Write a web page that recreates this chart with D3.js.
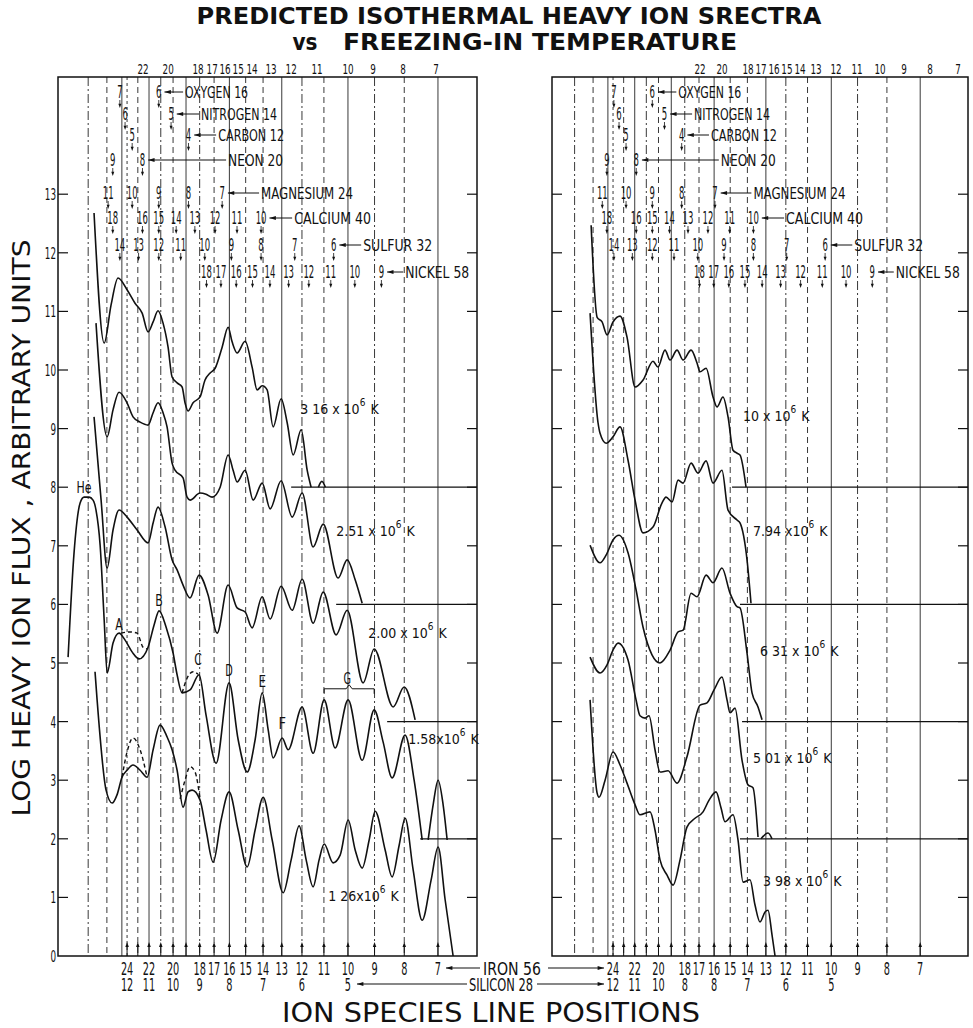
<!DOCTYPE html>
<html><head><meta charset="utf-8">
<script src="https://cdn.jsdelivr.net/npm/d3@7"></script>
<style>
body{margin:0;background:#fff}
svg text{font-family:"Liberation Sans Narrow","DejaVu Sans Condensed","Liberation Sans",sans-serif;fill:#111}
svg text.big{font-family:"DejaVu Sans","Liberation Sans",sans-serif;font-weight:bold}
</style></head><body>
<svg width="973" height="1028"></svg>
<script>
// ---- data (x = mass/charge, y = log flux) ----
var yTickValues = d3.range(0, 14);
var ironQ = [24,23,22,21,20,19,18,17,16,15,14,13,12,11,10,9,8,7];
var ironLabelQ = [24,22,20,18,17,16,15,14,13,12,11,10,9,8,7];
var siliconQAt = [24,22,20,18,16,14,12,10];
var siliconTextL = ["12","11","10","9","8","7","6","5"];
var siliconTextR = ["12","11","10","8","8","7","6","5"];
var lineSpecies = [[4,2],[56,26],[16,7],[56,24],[56,23],[56,22],[56,21],[56,20],[56,19],[56,18],
                   [56,17],[56,16],[56,15],[56,14],[56,13],[56,12],[56,11],[56,10],[56,9],[56,8],[56,7]];
var elementNames = ["OXYGEN 16","NITROGEN 14","CARBON 12","NEON 20","MAGNESIUM 24","CALCIUM 40","SULFUR 32","NICKEL 58"];
var elementMass = [16,14,12,20,24,40,32,58];
var elementCharges = [[7,6],[6,5],[5,4],[9,8],[11,10,9,8,7],[18,16,15,14,13,12,11,10],
                      [14,13,12,11,10,9,8,7,6],[18,17,16,15,14,13,12,11,10,9]];
var elementNameAt = [2.96,3.153,3.374,3.51,4.0,4.56,5.995,7.081];
var topRowText = ["22","20","18","17","16","15","14","13","12","11","10","9","8","7"];
var topRowAtL = [2.486,2.746,3.091,3.269,3.441,3.624,3.829,4.128,4.471,4.953,5.603,6.186,6.966,7.939];
var topRowAtR = [3.308,3.613,4.010,4.224,4.450,4.688,4.940,5.269,5.708,6.208,6.811,7.498,8.322,9.309];

var curve316 = [[2.047,12.68],[2.131,10.46],[2.190,11.11],[2.251,11.57],[2.333,11.37],[2.408,11.14],[2.477,10.97],[2.536,10.65],[2.587,10.82],[2.638,11.01],[2.691,10.80],[2.745,10.39],[2.789,9.88],[2.845,9.78],[2.902,9.71],[2.936,9.44],[2.971,9.30],[3.031,9.44],[3.116,9.54],[3.178,9.83],[3.243,9.95],[3.308,10.03],[3.401,10.39],[3.483,10.73],[3.538,10.48],[3.609,10.29],[3.726,10.49],[3.830,10.05],[3.907,9.66],[3.986,9.73],[4.065,9.66],[4.163,9.03],[4.297,9.51],[4.401,9.10],[4.507,8.55],[4.652,8.98],[4.764,8.29],[4.839,8.00]];
var bump316 = [[4.98,8.0],[5.05,8.1],[5.12,8.0]];
var curve251 = [[2.063,10.80],[2.156,8.86],[2.207,9.32],[2.260,9.62],[2.333,9.44],[2.389,9.20],[2.457,9.11],[2.536,9.06],[2.587,9.27],[2.638,9.44],[2.691,9.27],[2.734,9.03],[2.789,8.41],[2.822,8.29],[2.913,8.16],[2.960,7.83],[2.995,7.78],[3.116,7.90],[3.191,7.88],[3.269,7.83],[3.374,8.00],[3.483,8.55],[3.552,8.29],[3.609,8.09],[3.726,8.29],[3.846,7.78],[3.986,8.07],[4.114,7.63],[4.297,8.11],[4.489,7.49],[4.670,7.90],[4.878,6.98],[5.076,7.37],[5.386,6.45],[5.582,6.76],[5.762,6.42],[5.924,6.02]];
var curve200 = [[2.047,9.20],[2.105,7.78],[2.156,6.62],[2.207,7.27],[2.260,7.61],[2.333,7.49],[2.428,7.27],[2.536,7.05],[2.587,7.39],[2.638,7.66],[2.713,7.32],[2.789,6.76],[2.845,6.59],[2.913,6.33],[2.995,6.11],[3.104,6.50],[3.217,6.16],[3.334,5.51],[3.483,6.33],[3.609,5.94],[3.726,5.87],[3.830,5.60],[3.986,6.13],[4.114,5.75],[4.297,6.31],[4.489,5.90],[4.670,6.43],[4.878,5.68],[5.076,6.21],[5.344,5.48],[5.582,5.90],[5.947,4.66],[6.213,5.24],[6.698,4.25],[6.997,4.59],[7.308,4.03]];
var curve158 = [[1.847,5.10],[1.891,6.88],[1.937,7.73],[1.968,7.83],[2.007,7.83],[2.039,7.78],[2.063,7.61],[2.097,7.01],[2.131,5.73],[2.156,4.83],[2.207,5.34],[2.260,5.51],[2.315,5.39],[2.380,5.19],[2.447,5.07],[2.536,5.27],[2.597,5.65],[2.649,5.89],[2.724,5.61],[2.800,5.17],[2.845,4.80],[2.902,4.49],[2.995,4.54],[3.104,4.80],[3.191,4.11],[3.321,3.29],[3.496,4.66],[3.624,3.69],[3.756,3.14],[3.876,3.69],[3.986,4.49],[4.082,3.86],[4.163,3.38],[4.314,3.72],[4.418,3.52],[4.670,4.25],[4.878,3.46],[5.096,4.37],[5.323,3.55],[5.604,4.37],[5.924,3.34],[6.213,4.20],[6.438,3.65],[6.671,3.04],[7.024,3.77],[7.279,3.00],[7.515,1.98]];
var peak158 = [[7.695,1.98],[7.849,2.58],[8.005,3.00],[8.166,2.58],[8.297,1.98]];
var dash158a = [[2.278,5.51],[2.361,5.53],[2.428,5.51],[2.486,5.27],[2.526,5.24]];
var dash158b = [[2.902,4.49],[2.960,4.74],[3.031,4.85],[3.091,4.81]];
var curve126 = [[2.055,4.85],[2.072,4.37],[2.147,2.83],[2.199,2.61],[2.242,2.75],[2.287,3.05],[2.333,3.17],[2.389,3.26],[2.457,3.17],[2.526,3.05],[2.587,3.52],[2.659,3.94],[2.734,3.74],[2.789,3.52],[2.845,3.17],[2.913,2.54],[2.971,2.80],[3.019,2.83],[3.116,2.66],[3.191,2.15],[3.282,1.60],[3.387,2.32],[3.496,2.80],[3.624,2.15],[3.756,1.52],[3.876,2.15],[4.002,2.71],[4.147,1.98],[4.332,1.08],[4.471,1.64],[4.615,2.22],[4.745,1.64],[4.878,1.18],[4.995,1.64],[5.096,1.91],[5.280,1.59],[5.429,1.72],[5.604,2.32],[5.762,1.81],[5.924,1.50],[6.091,1.98],[6.237,2.47],[6.489,1.81],[6.671,1.35],[6.860,1.89],[7.024,2.35],[7.251,1.47],[7.515,0.61],[7.787,1.30],[8.005,1.86],[8.231,0.96],[8.496,0]];
var dash126a = [[2.287,3.05],[2.333,3.48],[2.389,3.72],[2.457,3.52],[2.526,3.05]];
var dash126b = [[2.879,2.68],[2.936,3.00],[2.995,3.23],[3.055,3.14],[3.116,2.68]];

var curve1000 = [[2.137,12.47],[2.189,10.90],[2.233,10.82],[2.278,10.60],[2.333,10.82],[2.400,10.92],[2.468,10.56],[2.549,9.71],[2.632,9.83],[2.739,10.15],[2.794,10.05],[2.874,10.34],[2.933,10.17],[3.016,10.34],[3.090,10.17],[3.191,10.34],[3.268,10.12],[3.308,9.97],[3.389,10.03],[3.485,9.54],[3.541,9.37],[3.627,9.54],[3.701,9.20],[3.776,8.63],[3.837,8.58],[3.883,8.55],[3.978,8.00]];
var curve794 = [[2.128,10.97],[2.197,9.10],[2.215,8.92],[2.269,8.75],[2.333,8.86],[2.400,9.03],[2.478,8.46],[2.549,7.78],[2.632,7.22],[2.739,7.32],[2.839,7.73],[2.886,7.83],[2.957,7.75],[3.029,8.12],[3.090,8.07],[3.191,8.41],[3.281,8.24],[3.389,8.45],[3.485,8.07],[3.612,8.29],[3.701,7.61],[3.837,7.44],[3.883,7.39],[3.994,6.76],[4.058,6.02]];
var curve631 = [[2.128,7.01],[2.215,6.71],[2.269,6.84],[2.333,7.10],[2.390,7.18],[2.478,6.88],[2.559,6.25],[2.632,5.61],[2.728,5.14],[2.817,5.00],[2.933,5.22],[3.029,5.53],[3.090,5.56],[3.191,6.19],[3.268,6.13],[3.389,6.50],[3.485,6.37],[3.612,6.62],[3.731,6.19],[3.837,5.96],[3.883,5.94],[3.994,5.17],[4.075,4.49],[4.174,4.25],[4.242,4.03]];
var curve501 = [[2.128,5.10],[2.215,4.83],[2.278,4.97],[2.333,5.22],[2.381,5.34],[2.478,5.05],[2.559,4.37],[2.600,4.10],[2.653,4.06],[2.696,4.10],[2.761,3.52],[2.817,3.14],[2.910,3.16],[3.016,2.95],[3.139,3.40],[3.308,4.28],[3.402,4.32],[3.499,4.54],[3.612,4.76],[3.686,4.37],[3.731,4.15],[3.806,4.23],[3.915,3.34],[4.010,2.92],[4.091,2.87],[4.174,2.03]];
var bump501 = [[4.225,2.0],[4.345,2.1],[4.415,2.0]];
var curve398 = [[2.128,4.37],[2.189,2.78],[2.206,2.71],[2.260,3.00],[2.333,3.48],[2.400,3.26],[2.468,2.95],[2.549,2.58],[2.600,2.41],[2.707,2.46],[2.761,2.15],[2.817,1.64],[2.898,1.38],[2.969,1.21],[3.053,1.64],[3.139,2.20],[3.242,2.35],[3.348,2.46],[3.430,2.66],[3.527,2.80],[3.598,2.53],[3.656,2.29],[3.776,2.41],[3.852,1.98],[3.931,1.26],[4.042,1.30],[4.124,0.87],[4.208,0.58],[4.293,0.75],[4.345,0.78],[4.415,0.36],[4.469,0]];

var tempTextL = ["3 16 x 10","2.51 x 10","2.00 x 10","1.58x10","1 26x10"];
var tempTextR = ["10 x 10","7.94 x10","6 31 x 10","5 01 x 10","3 98 x 10"];
var tempAtL = [[4.633,9.25],[5.344,7.17],[6.067,5.43],[7.109,3.62],[5.177,0.94]];
var tempAtR = [[3.93,9.13],[4.091,7.17],[4.208,5.12],[4.091,3.29],[4.259,1.19]];
var baseLevels = [8,6,4,2];
var baseFromL = [4.471,5.344,6.541,7.455];
var baseFromR = [3.761,3.883,3.915,3.883];
var featureText = ["He","A","B","C","D","E","F","G"];
var featureAt = [[1.968,7.90],[2.260,5.56],[2.649,5.97],[3.091,4.97],[3.496,4.78],[3.986,4.59],[4.314,3.87],[5.582,4.65]];
var braceG = [5.096, 6.213, 4.56];

// ---- layout ----
var svg = d3.select("svg");
var y = d3.scaleLinear().domain([0, 15]).range([956, 77]);
var rowY = [92,114,135,160,193,218,245,272];
var nameWidth = [63,76,66,55,92,77,69,64];
var lineDash = [ "9,3,2,3","6,4",null,"3,3","6,4",null,"9,3,2,3","6,4",null,"9,3,2,3",
                 "6,4",null,"6,4","6,4",null,"9,3,2,3","6,4",null,"9,3,2,3","6,4",null ];

function txt(g, x, yy, s, size, len, anchor) {
  var t = g.append("text").attr("x", x).attr("y", yy).attr("font-size", size)
    .attr("text-anchor", anchor || "middle").text(s);
  if (len) t.attr("textLength", len).attr("lengthAdjust", "spacingAndGlyphs");
  return t;
}
function head(g, x, yy, dir, s) {
  s = s || 4;
  var p;
  if (dir == "down") p = [[x, yy], [x - s/2, yy - s*1.4], [x + s/2, yy - s*1.4]];
  if (dir == "up") p = [[x, yy], [x - s/2, yy + s*1.4], [x + s/2, yy + s*1.4]];
  if (dir == "left") p = [[x, yy], [x + s*1.6, yy - s/2], [x + s*1.6, yy + s/2]];
  if (dir == "right") p = [[x, yy], [x - s*1.6, yy - s/2], [x - s*1.6, yy + s/2]];
  g.append("path").attr("d", "M" + p.join("L") + "Z").attr("fill", "#111");
}
function hline(g, x1, x2, yy, w) {
  g.append("line").attr("x1", x1).attr("x2", x2).attr("y1", yy).attr("y2", yy)
    .attr("stroke", "#111").attr("stroke-width", w || 1.2);
}

var panels = [
  { x: d3.scaleLog().domain([1.7745, 9.339]).range([58, 477]), shift: -2,
    curves: [curve316, bump316, curve251, curve200, curve158, peak158, curve126],
    dashed: [dash158a, dash158b, dash126a, dash126b],
    tempText: tempTextL, tempAt: tempAtL, baseFrom: baseFromL, topAt: topRowAtL,
    silicon: siliconTextL, tickLabels: true, features: true },
  { x: d3.scaleLog().domain([1.8266, 9.691]).range([552, 968]), shift: 6,
    curves: [curve1000, curve794, curve631, curve501, bump501, curve398],
    dashed: [],
    tempText: tempTextR, tempAt: tempAtR, baseFrom: baseFromR, topAt: topRowAtR,
    silicon: siliconTextR, tickLabels: false, features: false }
];

panels.forEach(function(p) {
  var g = svg.append("g");
  var x0 = p.x.range()[0], x1 = p.x.range()[1];

  // ion line positions
  g.selectAll("line.ion").data(lineSpecies).enter().append("line")
    .attr("x1", function(d) { return p.x(d[0] / d[1]); })
    .attr("x2", function(d) { return p.x(d[0] / d[1]); })
    .attr("y1", y(15)).attr("y2", y(0))
    .attr("stroke", "#222").attr("stroke-width", 0.9)
    .attr("stroke-dasharray", function(d, i) { return lineDash[i]; });

  // frame
  g.append("rect").attr("x", x0).attr("y", y(15)).attr("width", x1 - x0).attr("height", y(0) - y(15))
    .attr("fill", "none").attr("stroke", "#111").attr("stroke-width", 1.5);

  // y ticks on both sides
  yTickValues.forEach(function(v) {
    if (v == 0) return;
    hline(g, x0, x0 + 10, y(v), 1.2);
    hline(g, x1 - 10, x1, y(v), 1.2);
  });
  if (p.tickLabels) {
    yTickValues.forEach(function(v) {
      txt(g, 56, y(v) + 6, String(v), 16, String(v).length * 5.6, "end");
    });
  }

  // zero-level baselines of the offset spectra
  baseLevels.forEach(function(v, i) { hline(g, p.x(p.baseFrom[i]), x1, y(v), 1.2); });

  // top row of charge numbers
  topRowText.forEach(function(s, i) { txt(g, p.x(p.topAt[i]), 74, s, 14, s.length * 5.6); });

  // element rows
  elementNames.forEach(function(name, i) {
    var ry = rowY[i], last = 0;
    elementCharges[i].forEach(function(q) {
      var lx = p.x(elementMass[i] / q) + p.shift;
      var s = String(q);
      txt(g, lx, ry + 6, s, 17, s.length * 5.4);
      g.append("line").attr("x1", lx).attr("x2", lx).attr("y1", ry + 8).attr("y2", ry + 13)
        .attr("stroke", "#111").attr("stroke-width", 0.8);
      head(g, lx, ry + 16, "down", 3);
      last = Math.max(last, lx + s.length * 2.7);
    });
    var nx = p.x(elementNameAt[i]) + p.shift;
    txt(g, nx, ry + 6, name, 15, nameWidth[i], "start");
    hline(g, last + 3, nx - 2, ry, 1);
    head(g, last + 3, ry, "left", 4);
  });

  // spectra
  var line = d3.line().x(function(d) { return p.x(d[0]); }).y(function(d) { return y(d[1]); })
    .curve(d3.curveMonotoneX);
  p.curves.forEach(function(c) {
    g.append("path").attr("d", line(c)).attr("fill", "none").attr("stroke", "#111").attr("stroke-width", 1.6);
  });
  p.dashed.forEach(function(c) {
    g.append("path").attr("d", line(c)).attr("fill", "none").attr("stroke", "#111")
      .attr("stroke-width", 1.4).attr("stroke-dasharray", "4,3");
  });

  // temperature labels, one text element each
  p.tempText.forEach(function(s, i) {
    var t = g.append("text").attr("x", p.x(p.tempAt[i][0])).attr("y", y(p.tempAt[i][1]))
      .attr("font-size", 14);
    t.append("tspan").text(s);
    t.append("tspan").attr("dy", -8).attr("font-size", 10).text("6");
    t.append("tspan").attr("dy", 8).attr("dx", 5).text("K");
  });

  if (p.features) {
    featureText.forEach(function(s, i) {
      txt(g, p.x(featureAt[i][0]), y(featureAt[i][1]), s, 16, s.length * 7.5);
    });
    var bx1 = p.x(braceG[0]), bx2 = p.x(braceG[1]), by = y(braceG[2]), bm = (bx1 + bx2) / 2;
    g.append("path").attr("fill", "none").attr("stroke", "#111").attr("stroke-width", 1)
      .attr("d", "M" + bx1 + "," + (by + 5) + "L" + bx1 + "," + by + "L" + (bm - 3) + "," + by +
        "L" + bm + "," + (by - 4) + "L" + (bm + 3) + "," + by + "L" + bx2 + "," + by + "L" + bx2 + "," + (by + 5));
  }

  // bottom arrows and labels
  ironQ.forEach(function(q) {
    var lx = p.x(56 / q);
    head(g, lx, y(0) - 14, "up", 3.5);
    g.append("line").attr("x1", lx).attr("x2", lx).attr("y1", y(0) - 10).attr("y2", y(0))
      .attr("stroke", "#111").attr("stroke-width", 1);
  });
  ironLabelQ.forEach(function(q) {
    txt(g, p.x(56 / q), 975, String(q), 17, String(q).length * 6.2);
  });
  siliconQAt.forEach(function(q, i) {
    txt(g, p.x(56 / q), 991, p.silicon[i], 17, p.silicon[i].length * 6.2);
  });
});

// species names between panels
var xl = panels[0].x, xr = panels[1].x;
var mid = svg.append("g");
txt(mid, 512, 975, "IRON  56", 17, 58);
hline(mid, xl(8) + 8, 480, 968, 1.1); head(mid, xl(8) + 8, 968, "left", 4);
hline(mid, 548, xr(56 / 24) - 9, 968, 1.1); head(mid, xr(56 / 24) - 9, 968, "right", 4);
txt(mid, 501, 991, "SILICON  28", 17, 64);
hline(mid, xl(5.6) + 9, 467, 984, 1.1); head(mid, xl(5.6) + 9, 984, "left", 4);
hline(mid, 537, xr(56 / 24) - 9, 984, 1.1); head(mid, xr(56 / 24) - 9, 984, "right", 4);

// titles
txt(svg, 509, 24, "PREDICTED ISOTHERMAL HEAVY ION SRECTRA", 23, 625).attr("class", "big");
txt(svg, 305, 50, "vs", 23, 25).attr("class", "big");
txt(svg, 540, 50, "FREEZING-IN TEMPERATURE", 23, 394).attr("class", "big");
txt(svg, 491, 1022, "ION  SPECIES  LINE  POSITIONS", 26, 418).attr("class", "big").style("font-weight", "normal");
txt(svg, 0, 0, "LOG HEAVY ION FLUX , ARBITRARY UNITS", 25, 577)
  .attr("class", "big").style("font-weight", "normal")
  .attr("transform", "translate(30,528) rotate(-90)");
</script>
</body></html>
